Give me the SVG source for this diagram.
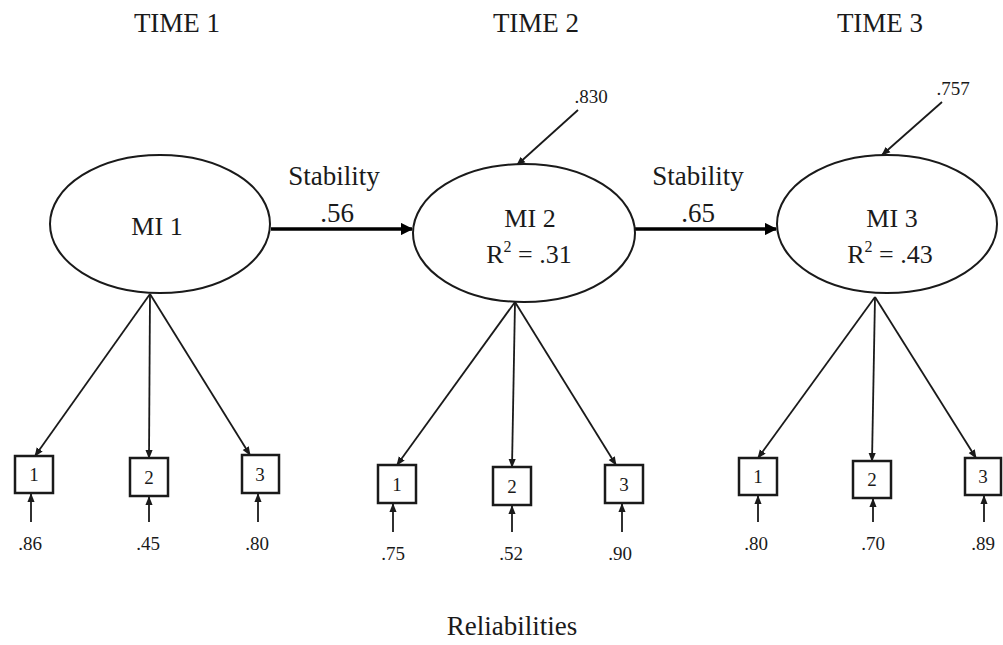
<svg xmlns="http://www.w3.org/2000/svg" width="1003" height="645" viewBox="0 0 1003 645">
  <style>
    text { font-family: "Liberation Serif", "Times New Roman", serif; fill: #1a1a1a; text-anchor: middle; }
    .title { font-size: 27px; }
    .lat { font-size: 26px; }
    .lab { font-size: 27px; }
    .num { font-size: 19px; }
    .ind { font-size: 19px; }
    .latent { fill: #fff; stroke: #1a1a1a; stroke-width: 2; }
    .box { fill: #fff; stroke: #1a1a1a; stroke-width: 2.5; }
    .load { stroke: #1a1a1a; stroke-width: 1.8; fill: none; marker-end: url(#tip); }
    .path { stroke: #000; stroke-width: 3.5; fill: none; marker-end: url(#tipBig); }
  </style>
  <defs>
    <marker id="tip" viewBox="0 0 10 10" refX="9" refY="5" markerWidth="5" markerHeight="5" orient="auto" markerUnits="strokeWidth">
      <path d="M0,1 L10,5 L0,9 Z" fill="#1a1a1a"/>
    </marker>
    <marker id="tipBig" viewBox="0 0 10 10" refX="9" refY="5" markerWidth="4" markerHeight="3.5" orient="auto" markerUnits="strokeWidth">
      <path d="M0,0 L10,5 L0,10 Z" fill="#000"/>
    </marker>
  </defs>

  <!-- occasion headings -->
  <text class="title" x="177" y="32">TIME 1</text>
  <text class="title" x="536" y="32">TIME 2</text>
  <text class="title" x="880" y="32">TIME 3</text>

  <!-- connectors: stability paths, disturbances, loadings, measurement errors -->
  <g id="connectors">
    <line class="path" x1="271" y1="229" x2="412" y2="229"/>
    <line class="path" x1="635" y1="229" x2="776" y2="229"/>

    <line class="load" x1="578" y1="110" x2="517" y2="165"/>
    <line class="load" x1="942" y1="102" x2="882" y2="155"/>

    <line class="load" x1="150" y1="294" x2="35" y2="456"/>
    <line class="load" x1="150" y1="294" x2="149" y2="458"/>
    <line class="load" x1="150" y1="294" x2="250" y2="455"/>

    <line class="load" x1="515" y1="302" x2="397" y2="465"/>
    <line class="load" x1="515" y1="302" x2="512" y2="467"/>
    <line class="load" x1="515" y1="302" x2="616" y2="465"/>

    <line class="load" x1="875" y1="297" x2="758" y2="458"/>
    <line class="load" x1="875" y1="297" x2="872" y2="461"/>
    <line class="load" x1="875" y1="297" x2="976" y2="458"/>

    <line class="load" x1="31" y1="522" x2="31" y2="494"/>
    <line class="load" x1="149" y1="522" x2="149" y2="497"/>
    <line class="load" x1="258" y1="522" x2="258" y2="494"/>
    <line class="load" x1="393" y1="532" x2="393" y2="504"/>
    <line class="load" x1="512" y1="532" x2="512" y2="506"/>
    <line class="load" x1="622" y1="532" x2="622" y2="504"/>
    <line class="load" x1="758" y1="522" x2="758" y2="496"/>
    <line class="load" x1="873" y1="522" x2="873" y2="499"/>
    <line class="load" x1="984" y1="522" x2="984" y2="496"/>
  </g>

  <!-- path labels -->
  <text class="lab" x="334" y="185">Stability</text>
  <text class="lab" x="337" y="222">.56</text>
  <text class="lab" x="698" y="185">Stability</text>
  <text class="lab" x="698" y="222">.65</text>
  <text class="num" x="591" y="103">.830</text>
  <text class="num" x="953" y="95">.757</text>

  <!-- latent factors -->
  <g id="mi1">
    <ellipse class="latent" cx="160" cy="224" rx="110" ry="69"/>
    <text class="lat" x="157" y="235">MI 1</text>
  </g>
  <g id="mi2">
    <ellipse class="latent" cx="524" cy="233" rx="111" ry="69"/>
    <text class="lat" x="530" y="227">MI 2</text>
    <text class="lat" x="529" y="263">R<tspan font-size="16" dy="-11">2</tspan><tspan dy="11"> = .31</tspan></text>
  </g>
  <g id="mi3">
    <ellipse class="latent" cx="887" cy="224" rx="110" ry="69"/>
    <text class="lat" x="892" y="227">MI 3</text>
    <text class="lat" x="890" y="263">R<tspan font-size="16" dy="-11">2</tspan><tspan dy="11"> = .43</tspan></text>
  </g>

  <!-- indicators, time 1 -->
  <g id="t1-i1"><rect class="box" x="15" y="456" width="38" height="37"/><text class="ind" x="34" y="481">1</text></g>
  <g id="t1-i2"><rect class="box" x="130" y="458" width="38" height="38"/><text class="ind" x="149" y="484">2</text></g>
  <g id="t1-i3"><rect class="box" x="242" y="455" width="37" height="38"/><text class="ind" x="260" y="481">3</text></g>
  <!-- indicators, time 2 -->
  <g id="t2-i1"><rect class="box" x="378" y="465" width="38" height="38"/><text class="ind" x="397" y="491">1</text></g>
  <g id="t2-i2"><rect class="box" x="493" y="467" width="38" height="38"/><text class="ind" x="512" y="493">2</text></g>
  <g id="t2-i3"><rect class="box" x="605" y="465" width="38" height="38"/><text class="ind" x="624" y="491">3</text></g>
  <!-- indicators, time 3 -->
  <g id="t3-i1"><rect class="box" x="739" y="458" width="38" height="37"/><text class="ind" x="758" y="483">1</text></g>
  <g id="t3-i2"><rect class="box" x="853" y="461" width="38" height="37"/><text class="ind" x="872" y="486">2</text></g>
  <g id="t3-i3"><rect class="box" x="965" y="458" width="36" height="37"/><text class="ind" x="983" y="483">3</text></g>

  <!-- reliabilities -->
  <text class="num" x="30" y="550">.86</text>
  <text class="num" x="148" y="550">.45</text>
  <text class="num" x="257" y="550">.80</text>
  <text class="num" x="393" y="560">.75</text>
  <text class="num" x="511" y="560">.52</text>
  <text class="num" x="620" y="560">.90</text>
  <text class="num" x="756" y="550">.80</text>
  <text class="num" x="873" y="550">.70</text>
  <text class="num" x="983" y="550">.89</text>

  <text class="title" x="512" y="635">Reliabilities</text>
</svg>
